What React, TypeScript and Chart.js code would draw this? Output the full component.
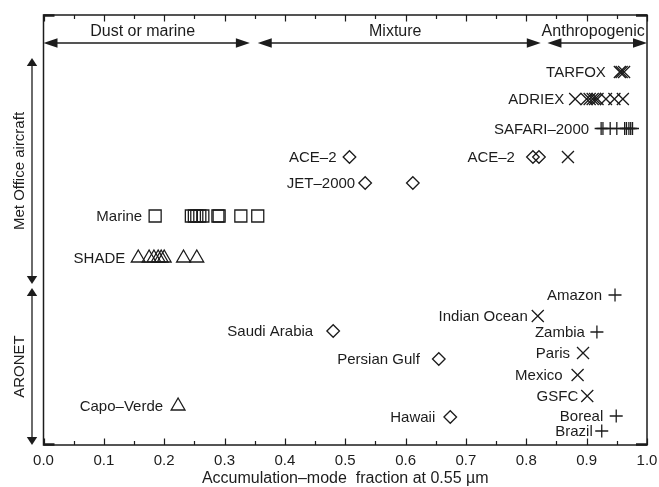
import React, { useEffect, useRef } from "react";
import { Chart, registerables } from "chart.js";

Chart.register(...registerables);

// ---------- Data ----------
const xTickValues = [0, 0.1, 0.2, 0.3, 0.4, 0.5, 0.6, 0.7, 0.8, 0.9, 1.0];
const xTickLabels = ["0.0", "0.1", "0.2", "0.3", "0.4", "0.5", "0.6", "0.7", "0.8", "0.9", "1.0"];
const xTitle = "Accumulation–mode  fraction at 0.55 µm";

// Regime bands along the top
const regimeNames = ["Dust or marine", "Mixture", "Anthropogenic"];
const regimeStart = [0, 0.355, 0.835];
const regimeEnd = [0.342, 0.824, 1.0];

// Measurement groups on the left (row extents)
const groupNames = ["Met Office aircraft", "ARONET"];
const groupTop = [4.3, 27.3];
const groupBottom = [26.9, 43];

// Met Office aircraft campaigns (x values; each campaign on its own row)
const tarfoxX = [0.955, 0.958, 0.962];
const adriexX = [0.881, 0.9, 0.905, 0.91, 0.914, 0.918, 0.932, 0.946, 0.96];
const safariX = [0.924, 0.927, 0.939, 0.95, 0.963, 0.966, 0.97, 0.973, 0.976];
const ace2DustX = [0.507];
const ace2AnthroDiamondX = [0.811, 0.821];
const ace2AnthroCrossX = [0.869];
const jet2000X = [0.533, 0.612];
const marineX = [0.185, 0.245, 0.25, 0.254, 0.259, 0.264, 0.289, 0.291, 0.327, 0.355];
const shadeX = [0.157, 0.175, 0.183, 0.19, 0.195, 0.2, 0.232, 0.254];

const tarfoxRow = 5.7;
const adriexRow = 8.4;
const safariRow = 11.35;
const ace2Row = 14.2;
const jet2000Row = 16.8;
const marineRow = 20.1;
const shadeRow = 24.3;

// ARONET sites
const aronetSites = ["Amazon", "Indian Ocean", "Zambia", "Saudi Arabia", "Paris", "Persian Gulf", "Mexico", "GSFC", "Capo–Verde", "Hawaii", "Boreal", "Brazil"];
const aronetX = [0.947, 0.819, 0.917, 0.48, 0.894, 0.655, 0.885, 0.901, 0.223, 0.674, 0.949, 0.925];
const aronetRow = [28.0, 30.1, 31.7, 31.6, 33.8, 34.4, 36.0, 38.1, 39.1, 40.2, 40.1, 41.6];
const aronetType = ["anthro", "mixed-x", "anthro", "dust", "mixed-x", "dust", "mixed-x", "mixed-x", "tri", "dust", "anthro", "anthro"];

// ---------- Styles ----------
const INK = "#1c1c1c";
const FONT = "'Liberation Sans', Arial, Helvetica, sans-serif";
const styleFor: Record<string, { style: string; radius: number }> = {
  x: { style: "crossRot", radius: 8.5 },
  plus: { style: "cross", radius: 6.5 },
  diamond: { style: "rectRot", radius: 6.3 },
  square: { style: "rect", radius: 8.5 },
  tri: { style: "triangle", radius: 8 },
};
const typeToMarker: Record<string, string> = { anthro: "plus", "mixed-x": "x", dust: "diamond", tri: "tri" };

// label gaps (px, marker centre to text end)
const metLabelGap = [14, 11, 12, 13, 18, 10, 13, 13];
const aronetGap = [13, 10, 12, 20, 13, 19, 15, 9, 15, 15, 13, 9];

function ds(xs: number[], row: number, marker: string) {
  const s = styleFor[marker];
  return {
    data: xs.map((x) => ({ x, y: row })),
    pointStyle: s.style,
    pointRadius: s.radius,
    pointBorderWidth: 1.3,
    pointBorderColor: INK,
    pointBackgroundColor: "rgba(0,0,0,0)",
    showLine: false,
  };
}

function arrowHead(ctx: CanvasRenderingContext2D, tx: number, ty: number, dx: number, dy: number, len: number, half: number) {
  const bx = tx - dx * len;
  const by = ty - dy * len;
  const px = -dy;
  const py = dx;
  ctx.beginPath();
  ctx.moveTo(tx, ty);
  ctx.lineTo(bx + px * half, by + py * half);
  ctx.lineTo(bx - px * half, by - py * half);
  ctx.closePath();
  ctx.fill();
}

export default function App() {
  const ref = useRef<HTMLCanvasElement | null>(null);

  useEffect(() => {
    if (!ref.current) return;

    const metLabels = [
      { text: "TARFOX", x: tarfoxX[0], y: tarfoxRow },
      { text: "ADRIEX", x: adriexX[0], y: adriexRow },
      { text: "SAFARI–2000", x: safariX[0], y: safariRow },
      { text: "ACE–2", x: ace2DustX[0], y: ace2Row },
      { text: "ACE–2", x: ace2AnthroDiamondX[0], y: ace2Row },
      { text: "JET–2000", x: jet2000X[0], y: jet2000Row },
      { text: "Marine", x: marineX[0], y: marineRow },
      { text: "SHADE", x: shadeX[0], y: shadeRow },
    ];

    const decor = {
      id: "decor",
      afterDatasetsDraw(chart: any) {
        const ctx: CanvasRenderingContext2D = chart.ctx;
        const xs = chart.scales.x;
        const ys = chart.scales.y;
        const a = chart.chartArea;
        ctx.save();
        ctx.strokeStyle = INK;
        ctx.fillStyle = INK;

        // frame
        ctx.lineWidth = 1.5;
        ctx.strokeRect(a.left, a.top, a.right - a.left, a.bottom - a.top);
        // corner ticks
        ctx.lineWidth = 2.5;
        ctx.beginPath();
        ctx.moveTo(a.left, a.top + 0.5); ctx.lineTo(a.left + 11, a.top + 0.5);
        ctx.moveTo(a.left, a.bottom - 0.5); ctx.lineTo(a.left + 11, a.bottom - 0.5);
        ctx.moveTo(a.right, a.top + 0.5); ctx.lineTo(a.right - 11, a.top + 0.5);
        ctx.moveTo(a.right, a.bottom - 0.5); ctx.lineTo(a.right - 11, a.bottom - 0.5);
        ctx.stroke();

        // inward ticks top and bottom
        ctx.lineWidth = 1.2;
        ctx.beginPath();
        for (let i = 0; i < xTickValues.length; i++) {
          const px = Math.round(xs.getPixelForValue(xTickValues[i])) + 0.5;
          ctx.moveTo(px, a.top); ctx.lineTo(px, a.top + 6.5);
          ctx.moveTo(px, a.bottom); ctx.lineTo(px, a.bottom - 6.5);
          if (i < xTickValues.length - 1) {
            const mid = (xTickValues[i] + xTickValues[i + 1]) / 2;
            const pm = Math.round(xs.getPixelForValue(mid)) + 0.5;
            ctx.moveTo(pm, a.top); ctx.lineTo(pm, a.top + 4);
            ctx.moveTo(pm, a.bottom); ctx.lineTo(pm, a.bottom - 4);
          }
        }
        ctx.stroke();

        // regime arrows along top
        const ay = ys.getPixelForValue(2.8);
        ctx.lineWidth = 1.3;
        ctx.font = `16px ${FONT}`;
        ctx.textAlign = "center";
        ctx.textBaseline = "middle";
        for (let i = 0; i < regimeNames.length; i++) {
          const x0 = xs.getPixelForValue(regimeStart[i]);
          const x1 = xs.getPixelForValue(regimeEnd[i]);
          ctx.beginPath();
          ctx.moveTo(x0 + 4, ay); ctx.lineTo(x1 - 4, ay);
          ctx.stroke();
          arrowHead(ctx, x0, ay, -1, 0, 14, 4.8);
          arrowHead(ctx, x1, ay, 1, 0, 14, 4.8);
          ctx.fillText(regimeNames[i], (x0 + x1) / 2 - 4, ay - 11);
        }

        // group arrows on the left
        const gx = 32;
        ctx.font = `15px ${FONT}`;
        for (let i = 0; i < groupNames.length; i++) {
          const y0 = ys.getPixelForValue(groupTop[i]);
          const y1 = ys.getPixelForValue(groupBottom[i]);
          ctx.beginPath();
          ctx.moveTo(gx, y0 + 4); ctx.lineTo(gx, y1 - 4);
          ctx.stroke();
          arrowHead(ctx, gx, y0, 0, -1, 8, 5.2);
          arrowHead(ctx, gx, y1, 0, 1, 8, 5.2);
          ctx.save();
          ctx.translate(20, (y0 + y1) / 2);
          ctx.rotate(-Math.PI / 2);
          ctx.fillText(groupNames[i], 0, 0);
          ctx.restore();
        }

        // point labels
        ctx.textAlign = "right";
        ctx.textBaseline = "middle";
        ctx.font = `15px ${FONT}`;
        metLabels.forEach((l, i) => {
          ctx.fillText(l.text, xs.getPixelForValue(l.x) - metLabelGap[i], ys.getPixelForValue(l.y) + 1);
        });
        aronetSites.forEach((name, i) => {
          ctx.fillText(name, xs.getPixelForValue(aronetX[i]) - aronetGap[i], ys.getPixelForValue(aronetRow[i]) + 1);
        });
        ctx.restore();
      },
    };

    const datasets: any[] = [
      ds(tarfoxX, tarfoxRow, "x"),
      ds(adriexX, adriexRow, "x"),
      ds(safariX, safariRow, "plus"),
      ds(ace2DustX, ace2Row, "diamond"),
      ds(ace2AnthroDiamondX, ace2Row, "diamond"),
      ds(ace2AnthroCrossX, ace2Row, "x"),
      ds(jet2000X, jet2000Row, "diamond"),
      ds(marineX, marineRow, "square"),
      ds(shadeX, shadeRow, "tri"),
    ];
    aronetSites.forEach((_, i) => {
      datasets.push(ds([aronetX[i]], aronetRow[i], typeToMarker[aronetType[i]]));
    });

    const chart = new Chart(ref.current, {
      type: "scatter",
      data: { datasets },
      options: {
        animation: false,
        responsive: false,
        events: [],
        layout: { padding: { left: 43.5, right: 12, top: 15, bottom: 0 } },
        plugins: { legend: { display: false }, tooltip: { enabled: false } },
        scales: {
          x: {
            type: "linear",
            min: 0,
            max: 1,
            afterBuildTicks: (scale: any) => {
              scale.ticks = xTickValues.map((v) => ({ value: v }));
            },
            afterFit: (scale: any) => {
              scale.height = 42;
              scale.paddingLeft = 0;
              scale.paddingRight = 0;
            },
            ticks: {
              autoSkip: false,
              maxRotation: 0,
              padding: 7,
              color: INK,
              font: { family: FONT, size: 15 },
              callback: (_v: any, i: number) => xTickLabels[i],
            },
            grid: { display: false, drawTicks: false },
            border: { display: false },
            title: {
              display: true,
              text: xTitle,
              color: INK,
              font: { family: FONT, size: 16 },
              padding: { top: 0, bottom: -1 },
            },
          },
          y: {
            type: "linear",
            display: false,
            min: 0,
            max: 43,
            reverse: true,
          },
        },
      },
      plugins: [decor],
    });
    return () => chart.destroy();
  }, []);

  return (
    <div style={{ position: "fixed", left: 0, top: 0, width: 659, height: 487, background: "#fff" }}>
      <canvas ref={ref} width={659} height={487} style={{ width: 659, height: 487, display: "block" }} />
    </div>
  );
}
